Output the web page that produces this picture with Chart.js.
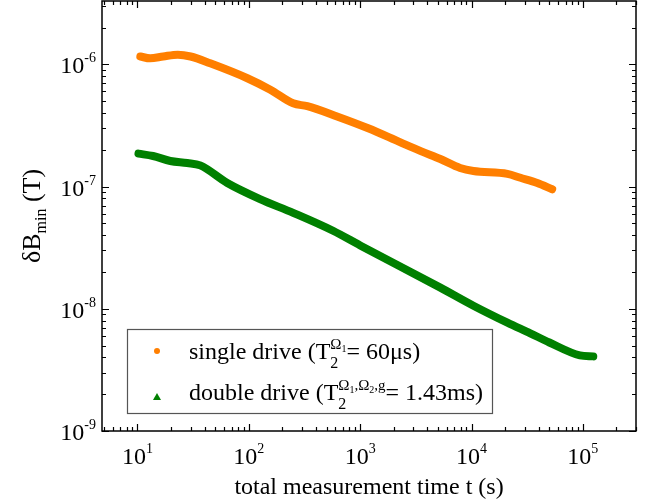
<!DOCTYPE html>
<html>
<head>
<meta charset="utf-8">
<script src="https://cdn.jsdelivr.net/npm/chart.js@4/dist/chart.umd.min.js"></script>
<style>
  html, body { margin: 0; padding: 0; background: #fff; }
</style>
</head>
<body>
<canvas id="chart" width="660" height="504"></canvas>
<script>
// values (time in s, field in T)
var singleTime = [10.6, 13, 17, 23, 30, 45, 97, 156, 250, 335, 620, 1180, 2300, 3500, 5250, 7900, 10400, 21000, 27500, 39000, 53000];
var singleField = [1.16e-6, 1.12e-6, 1.16e-6, 1.2e-6, 1.16e-6, 1.02e-6, 7.7e-7, 6.2e-7, 4.8e-7, 4.55e-7, 3.75e-7, 3.0e-7, 2.3e-7, 1.95e-7, 1.68e-7, 1.42e-7, 1.34e-7, 1.27e-7, 1.18e-7, 1.07e-7, 9.5e-8];
var doubleTime = [10.2, 13.8, 19.7, 28, 36.6, 64, 126, 250, 570, 1000, 5250, 10400, 21000, 33700, 50000, 94000, 124000];
var doubleField = [1.86e-7, 1.78e-7, 1.62e-7, 1.56e-7, 1.49e-7, 1.07e-7, 7.9e-8, 6.1e-8, 4.35e-8, 3.3e-8, 1.49e-8, 1.06e-8, 7.7e-9, 6.3e-9, 5.3e-9, 4.16e-9, 4.08e-9];

var xTickExps = [1, 2, 3, 4, 5];
var yTickExps = [-9, -8, -7, -6];

var FONT = '"Liberation Serif", "Times New Roman", serif';

function toPoints(xs, ys) {
    return xs.map(function (x, i) { return { x: x, y: ys[i] }; });
}

// draws text runs left to right; a run with stack:true does not move x
function drawRuns(ctx, x, y, runs) {
    runs.forEach(function (r) {
        ctx.font = r.size + 'px ' + FONT;
        ctx.fillText(r.t, x, y + (r.dy || 0));
        if (!r.stack) x += ctx.measureText(r.t).width;
    });
    return x;
}

function runsWidth(ctx, runs) {
    var w = 0;
    runs.forEach(function (r) {
        ctx.font = r.size + 'px ' + FONT;
        if (!r.stack) w += ctx.measureText(r.t).width;
    });
    return w;
}

function powerRuns(e) {
    return [{ t: '10', size: 24 }, { t: e < 0 ? '-' + (-e) : String(e), size: 14, dy: -11 }];
}

var framePlugin = {
    id: 'frame',
    afterDatasetsDraw: function (chart) {
        var ctx = chart.ctx;
        var a = chart.chartArea;
        var xs = chart.scales.x, ys = chart.scales.y;
        ctx.save();
        ctx.strokeStyle = '#000';
        ctx.fillStyle = '#000';
        ctx.lineWidth = 1.5;
        ctx.strokeRect(a.left, a.top, a.right - a.left, a.bottom - a.top);

        // ticks, pointing into the plot
        ctx.lineWidth = 1.2;
        ctx.beginPath();
        var d, m, v, p, len;
        for (d = 0; d <= 5; d++) {
            for (m = 1; m <= 9; m++) {
                v = m * Math.pow(10, d);
                if (v < xs.min || v > xs.max) continue;
                p = Math.round(xs.getPixelForValue(v)) + 0.5;
                len = m === 1 ? 7 : 4;
                ctx.moveTo(p, a.bottom); ctx.lineTo(p, a.bottom - len);
                ctx.moveTo(p, a.top); ctx.lineTo(p, a.top + len);
            }
        }
        for (d = -9; d <= -6; d++) {
            for (m = 1; m <= 9; m++) {
                v = m * Math.pow(10, d);
                if (v < ys.min || v > ys.max) continue;
                p = Math.round(ys.getPixelForValue(v)) + 0.5;
                len = m === 1 ? 7 : 4;
                ctx.moveTo(a.left, p); ctx.lineTo(a.left + len, p);
                ctx.moveTo(a.right, p); ctx.lineTo(a.right - len, p);
            }
        }
        ctx.stroke();

        // tick labels
        ctx.textBaseline = 'alphabetic';
        ctx.textAlign = 'left';
        xTickExps.forEach(function (e) {
            var runs = powerRuns(e);
            var px = xs.getPixelForValue(Math.pow(10, e));
            drawRuns(ctx, px - runsWidth(ctx, runs) / 2, a.bottom + 33, runs);
        });
        yTickExps.forEach(function (e) {
            var runs = powerRuns(e);
            var py = ys.getPixelForValue(Math.pow(10, e));
            drawRuns(ctx, a.left - 6 - runsWidth(ctx, runs), py + 9, runs);
        });

        // axis titles
        ctx.font = '24px ' + FONT;
        ctx.textAlign = 'center';
        ctx.fillText('total measurement time t (s)', (a.left + a.right) / 2, 494);
        ctx.textAlign = 'left';
        var yTitle = [{ t: '\u03b4B', size: 26 }, { t: 'min', size: 16, dy: 6 }, { t: ' (T)', size: 26 }];
        ctx.save();
        ctx.translate(40, (a.top + a.bottom) / 2);
        ctx.rotate(-Math.PI / 2);
        drawRuns(ctx, -runsWidth(ctx, yTitle) / 2, 0, yTitle);
        ctx.restore();

        // legend
        var lx = 127, ly = 329, lw = 365, lh = 84;
        ctx.fillStyle = '#fff';
        ctx.fillRect(lx, ly, lw, lh);
        ctx.strokeStyle = '#555';
        ctx.lineWidth = 1.2;
        ctx.strokeRect(lx + 0.5, ly + 0.5, lw, lh);

        ctx.fillStyle = chart.data.datasets[0].borderColor;
        ctx.beginPath();
        ctx.arc(157, 351, 3, 0, Math.PI * 2);
        ctx.fill();
        ctx.fillStyle = chart.data.datasets[1].borderColor;
        ctx.beginPath();
        ctx.moveTo(157, 393); ctx.lineTo(161, 400); ctx.lineTo(153, 400);
        ctx.closePath();
        ctx.fill();

        ctx.fillStyle = '#000';
        drawRuns(ctx, 189, 359, [
            { t: 'single drive (T', size: 24 },
            { t: '2', size: 16, dy: 9, stack: true },
            { t: '\u03a9', size: 15, dy: -10 },
            { t: '1', size: 10, dy: -7 },
            { t: '= 60\u03bcs)', size: 24 }
        ]);
        drawRuns(ctx, 189, 400, [
            { t: 'double drive (T', size: 24 },
            { t: '2', size: 16, dy: 9, stack: true },
            { t: '\u03a9', size: 15, dy: -10 },
            { t: '1', size: 10, dy: -7 },
            { t: ',\u03a9', size: 15, dy: -10 },
            { t: '2', size: 10, dy: -7 },
            { t: ',g', size: 15, dy: -10 },
            { t: '= 1.43ms)', size: 24 }
        ]);
        ctx.restore();
    }
};

new Chart(document.getElementById('chart'), {
    type: 'line',
    data: {
        datasets: [
            {
                label: 'single drive',
                data: toPoints(singleTime, singleField),
                borderColor: '#ff7f00',
                backgroundColor: '#ff7f00',
                borderWidth: 8,
                borderCapStyle: 'round',
                borderJoinStyle: 'round',
                pointRadius: 0,
                cubicInterpolationMode: 'monotone'
            },
            {
                label: 'double drive',
                data: toPoints(doubleTime, doubleField),
                borderColor: '#008000',
                backgroundColor: '#008000',
                borderWidth: 8,
                borderCapStyle: 'round',
                borderJoinStyle: 'round',
                pointRadius: 0,
                cubicInterpolationMode: 'monotone'
            }
        ]
    },
    options: {
        responsive: false,
        animation: false,
        layout: { padding: { top: 1, right: 24, left: 0, bottom: 0 } },
        plugins: { legend: { display: false }, tooltip: { enabled: false } },
        scales: {
            x: {
                type: 'logarithmic',
                min: 4.8,
                max: 3e5,
                grid: { display: false },
                border: { display: false },
                ticks: { display: false },
                afterFit: function (scale) { scale.height = 73; }
            },
            y: {
                type: 'logarithmic',
                min: 1e-9,
                max: 3.3e-6,
                grid: { display: false },
                border: { display: false },
                ticks: { display: false },
                afterFit: function (scale) { scale.width = 102; }
            }
        }
    },
    plugins: [framePlugin]
});
</script>
</body>
</html>
